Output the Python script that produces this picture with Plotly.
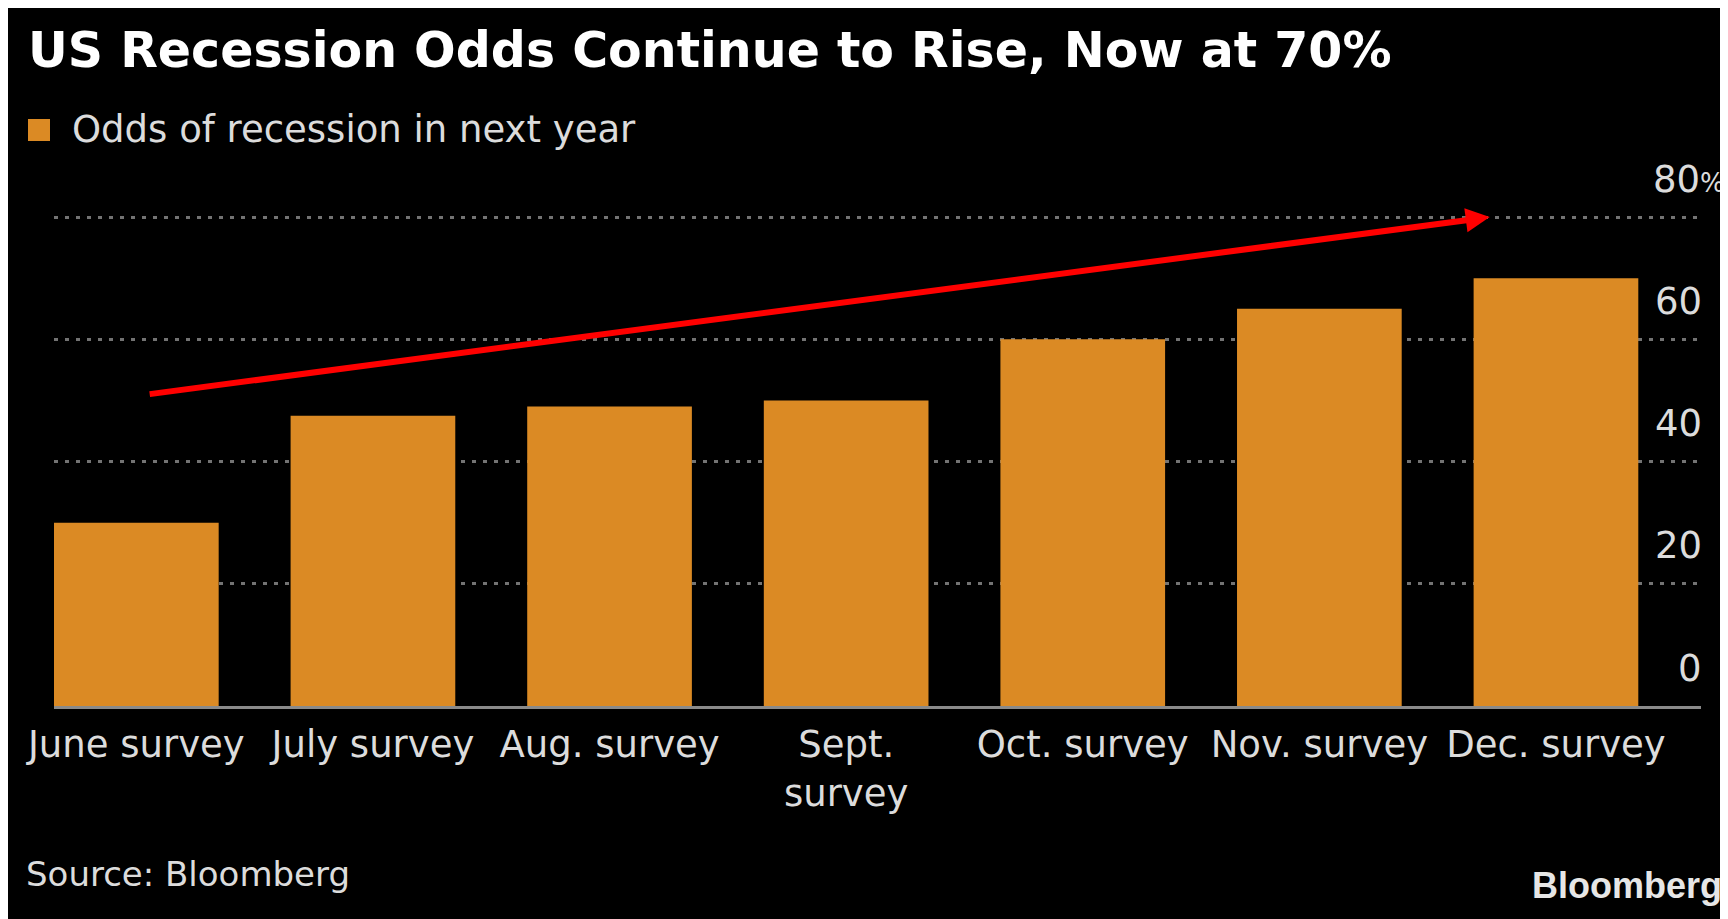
import plotly.graph_objects as go

# survey months and the odds of a US recession within the next year (%)
surveys = [
    "June survey",
    "July survey",
    "Aug. survey",
    "Sept.<br>survey",
    "Oct. survey",
    "Nov. survey",
    "Dec. survey",
]
odds = [30, 47.5, 49, 50, 60, 65, 70]

y_ticks = [0, 20, 40, 60, 80]
y_tick_text = ["0", "20", "40", "60", "80<span style='font-size:26px'>%</span>"]

# red trend arrow, in data units (tail -> tip)
arrow_tail = (0.05, 51)
arrow_tip = (5.72, 80)

W, H = 1728, 919
L, R, T, B = 46, 35, 148, 221
plot_w = W - L - R
plot_h = H - T - B

BAR = "#db8a24"
TEXT = "#dcdcdc"
FONT = "DejaVu Sans"


def paper_x(px):
    return (px - L) / plot_w


def paper_y(py):
    return (H - B - py) / plot_h


fig = go.Figure()
fig.add_trace(
    go.Bar(
        x=list(range(len(surveys))),
        y=odds,
        marker={"color": BAR, "line": {"width": 0}},
        showlegend=False,
        hoverinfo="skip",
    )
)

fig.update_layout(
    width=W,
    height=H,
    margin={"l": L, "r": R, "t": T, "b": B},
    paper_bgcolor="#000000",
    plot_bgcolor="#000000",
    bargap=0.304,
    font={"family": FONT, "color": TEXT, "size": 37},
    title={
        "text": "<b>US Recession Odds Continue to Rise, Now at 70%</b>",
        "font": {"family": FONT, "size": 49, "color": "#ffffff"},
        "xref": "container",
        "yref": "container",
        "x": 20 / W,
        "xanchor": "left",
        "y": 1 - 42 / H,
        "yanchor": "middle",
    },
)

fig.update_xaxes(
    tickmode="array",
    tickvals=list(range(len(surveys))),
    ticktext=surveys,
    range=[-0.348, 6.613],
    showgrid=False,
    zeroline=False,
    showline=True,
    linecolor="#8a8a8a",
    linewidth=3,
    ticks="",
    ticklabelstandoff=4,
    tickfont={"family": FONT, "size": 37, "color": TEXT},
)

fig.update_yaxes(
    range=[0, 90],
    tickmode="array",
    tickvals=y_ticks,
    showticklabels=False,
    showgrid=True,
    gridcolor="#737373",
    gridwidth=3,
    griddash="4px,7px",
    zeroline=False,
    showline=False,
)

# y labels sit just above their gridlines, right aligned
for v, t in zip(y_ticks, y_tick_text):
    fig.add_annotation(
        x=1,
        xref="paper",
        y=v,
        yref="y",
        text=t,
        showarrow=False,
        xanchor="right",
        yanchor="middle",
        xshift=26 if v == 80 else 3,
        yshift=38,
        font={"family": FONT, "size": 37, "color": TEXT},
    )

# legend: square + label
fig.add_shape(
    type="rect",
    xref="paper",
    yref="paper",
    x0=paper_x(20),
    x1=paper_x(42),
    y0=paper_y(133),
    y1=paper_y(111),
    fillcolor=BAR,
    line={"width": 0},
)
fig.add_annotation(
    xref="paper",
    yref="paper",
    x=paper_x(62),
    y=paper_y(122),
    text="Odds of recession in next year",
    showarrow=False,
    xanchor="left",
    yanchor="middle",
    font={"family": FONT, "size": 37, "color": TEXT},
)

# trend arrow
fig.add_annotation(
    x=arrow_tip[0],
    y=arrow_tip[1],
    ax=arrow_tail[0],
    ay=arrow_tail[1],
    xref="x",
    yref="y",
    axref="x",
    ayref="y",
    text="",
    showarrow=True,
    arrowhead=2,
    arrowsize=0.8,
    arrowwidth=6,
    arrowcolor="#ff0000",
    standoff=0,
)

fig.add_annotation(
    xref="paper",
    yref="paper",
    x=paper_x(16),
    y=paper_y(866),
    text="Source: Bloomberg",
    showarrow=False,
    xanchor="left",
    yanchor="middle",
    font={"family": FONT, "size": 34, "color": TEXT},
)
fig.add_annotation(
    xref="paper",
    yref="paper",
    x=paper_x(1716),
    y=paper_y(877),
    text="<b>Bloomberg</b>",
    showarrow=False,
    xanchor="right",
    yanchor="middle",
    font={"family": "Liberation Sans", "size": 36, "color": "#e6e6e6"},
)

fig.write_html("out.html")
